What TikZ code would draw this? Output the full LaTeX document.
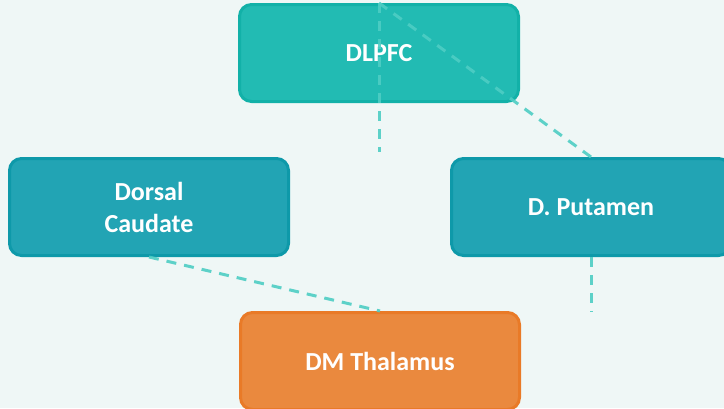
\documentclass[tikz,border=0pt]{standalone}
\usepackage{fontspec}
\setmainfont{Carlito}
\definecolor{bgmint}{HTML}{EFF7F6}
\definecolor{tealfill}{HTML}{22BBB3}
\definecolor{tealedge}{HTML}{12B1A8}
\definecolor{bluefill}{HTML}{22A4B4}
\definecolor{blueedge}{HTML}{0E99A9}
\definecolor{orangefill}{HTML}{EA893E}
\definecolor{orangeedge}{HTML}{E97A27}
\definecolor{linkcol}{HTML}{4ECDC4}
\tikzset{
  region/.style={rectangle, rounded corners=12pt, line width=3pt,
    minimum width=279pt, minimum height=97pt, align=center,
    text=white, font=\fontsize{26}{32}\selectfont\bfseries},
  link/.style={draw=linkcol, line width=3pt, dash pattern=on 10pt off 8pt, opacity=0.9}
}
\begin{document}
\begin{tikzpicture}[x=1pt,y=-1pt]
  \fill[bgmint] (0,0) rectangle (724,408);
  \useasboundingbox (0,0) rectangle (724,408);

  \node[region, fill=tealfill, draw=tealedge] (dlpfc) at (379,53) {DLPFC};
  \node[region, fill=bluefill, draw=blueedge] (caudate) at (149,207) {Dorsal\\Caudate};
  \node[region, fill=bluefill, draw=blueedge] (putamen) at (591,207) {D. Putamen};
  \node[region, fill=orangefill, draw=orangeedge] (thalamus) at (380,361) {DM Thalamus};

  \coordinate (dlpfcend) at (379,152);
  \coordinate (putamenend) at (591,312);

  \draw[link] (dlpfc.north) -- (dlpfcend);
  \draw[link] (dlpfc.north) -- (putamen.north);
  \draw[link] (caudate.south) -- (thalamus.north);
  \draw[link] (putamen.south) -- (putamenend);
\end{tikzpicture}
\end{document}
